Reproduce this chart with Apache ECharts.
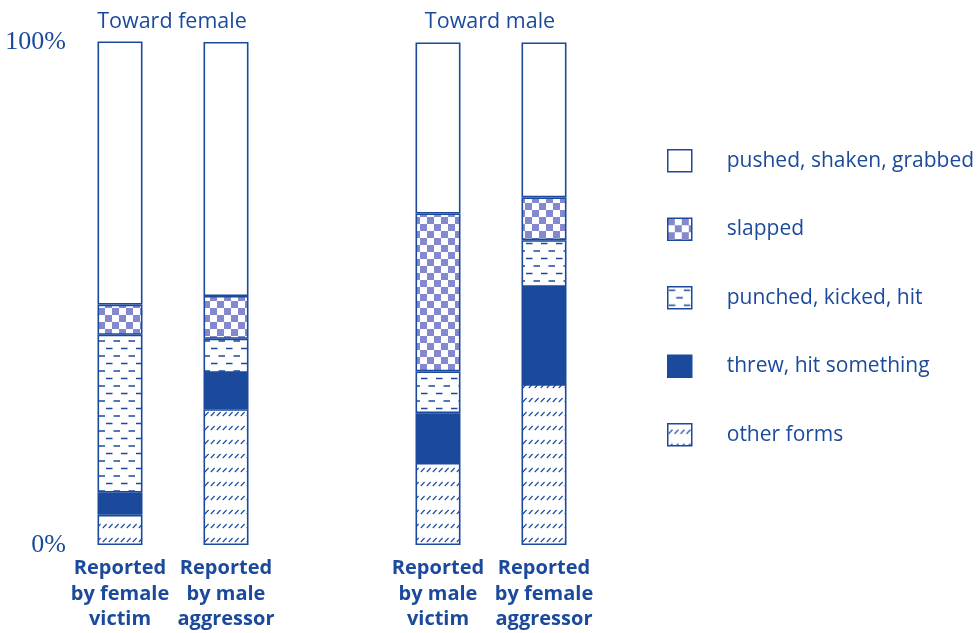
<!DOCTYPE html>
<html>
<head>
<meta charset="utf-8">
<script src="https://cdn.jsdelivr.net/npm/echarts@6/dist/echarts.min.js"></script>
<style>html,body{margin:0;padding:0;background:#fff;}#c{width:978px;height:633px;}</style>
</head>
<body>
<div id="c"></div>
<script>
// ---- data ----
const categories = ["Reported\nby female\nvictim", "Reported\nby male\naggressor", "", "Reported\nby male\nvictim", "Reported\nby female\naggressor"];
const otherForms = [6.0, 27.0, null, 16.3, 32.0];
const threw = [4.4, 7.2, null, 9.9, 19.3];
const punched = [31.4, 6.8, null, 8.3, 9.3];
const slapped = [6.0, 8.5, null, 31.4, 8.5];
const pushed = [52.3, 50.5, null, 34.0, 30.8];
const seriesNames = ["other forms", "threw, hit something", "punched, kicked, hit", "slapped", "pushed, shaken, grabbed"];
const legendOrder = ["pushed, shaken, grabbed", "slapped", "punched, kicked, hit", "threw, hit something", "other forms"];
const yTicks = [0, 100];
const groupTitles = ["Toward female", "Toward male"];

const BLUE = '#1B4A9C';
const CHECK = '#8489CE';

function makeCanvas(w, h, draw) {
  const c = document.createElement('canvas');
  c.width = w; c.height = h;
  const ctx = c.getContext('2d');
  ctx.fillStyle = '#fff'; ctx.fillRect(0, 0, w, h);
  draw(ctx);
  return c;
}
const checkerImg = makeCanvas(14, 14, ctx => {
  ctx.fillStyle = CHECK;
  ctx.fillRect(0, 0, 7, 7);
  ctx.fillRect(7, 7, 7, 7);
});
const dashImg = makeCanvas(15, 15, ctx => {
  ctx.strokeStyle = BLUE; ctx.lineWidth = 1.6;
  ctx.beginPath();
  ctx.moveTo(1, 3.5); ctx.lineTo(7.5, 3.5);
  ctx.moveTo(8.5, 11); ctx.lineTo(15, 11);
  ctx.stroke();
});
const hatchImg = makeCanvas(6, 14, ctx => {
  ctx.strokeStyle = BLUE; ctx.lineWidth = 1.1;
  ctx.beginPath();
  ctx.moveTo(0.8, 10); ctx.lineTo(4.6, 6);
  ctx.stroke();
});

const fills = [
  { image: hatchImg, repeat: 'repeat' },
  BLUE,
  { image: dashImg, repeat: 'repeat' },
  { image: checkerImg, repeat: 'repeat' },
  '#ffffff'
];
const datas = [otherForms, threw, punched, slapped, pushed];

const chart = echarts.init(document.getElementById('c'), null, { renderer: 'canvas' });
const series = seriesNames.map((n, i) => ({
  name: n,
  type: 'bar',
  stack: 'total',
  barWidth: 45,
  data: datas[i],
  itemStyle: { color: fills[i], borderColor: BLUE, borderWidth: 1.6 },
  emphasis: { disabled: true },
  silent: true
}));

chart.setOption({
  animation: false,
  backgroundColor: '#fff',
  grid: { left: 67, top: 42, width: 530, bottom: 88, containLabel: false, outerBoundsMode: 'none' },
  xAxis: {
    type: 'category',
    data: categories,
    axisLine: { show: false },
    axisTick: { show: false },
    axisLabel: {
      interval: 0,
      margin: 11,
      color: BLUE,
      fontFamily: 'Open Sans',
      fontWeight: 'bold',
      fontSize: 20,
      lineHeight: 25.5
    }
  },
  yAxis: {
    type: 'value',
    min: yTicks[0],
    max: yTicks[1],
    interval: 100,
    axisLine: { show: false },
    axisTick: { show: false },
    splitLine: { show: false },
    axisLabel: {
      margin: 1,
      color: BLUE,
      fontFamily: 'Liberation Serif',
      fontSize: 26,
      padding: [4, 0, 0, 0],
      formatter: '{value}%'
    }
  },
  legend: {
    data: legendOrder,
    orient: 'vertical',
    left: 662,
    top: 144,
    icon: 'rect',
    itemWidth: 24,
    itemHeight: 22,
    itemGap: 45,
    selectedMode: false,
    itemStyle: { borderColor: BLUE, borderWidth: 1.5 },
    textStyle: {
      color: BLUE,
      fontFamily: 'Open Sans',
      fontSize: 21,
      lineHeight: 22,
      padding: [0, 0, 0, 30]
    }
  },
  graphic: [
    { type: 'text', x: 172, y: 22, style: { text: groupTitles[0], fill: BLUE, font: '21.5px "Open Sans"', align: 'center', verticalAlign: 'middle' } },
    { type: 'text', x: 490, y: 22, style: { text: groupTitles[1], fill: BLUE, font: '21.5px "Open Sans"', align: 'center', verticalAlign: 'middle' } }
  ],
  series: series
});
</script>
</body>
</html>
